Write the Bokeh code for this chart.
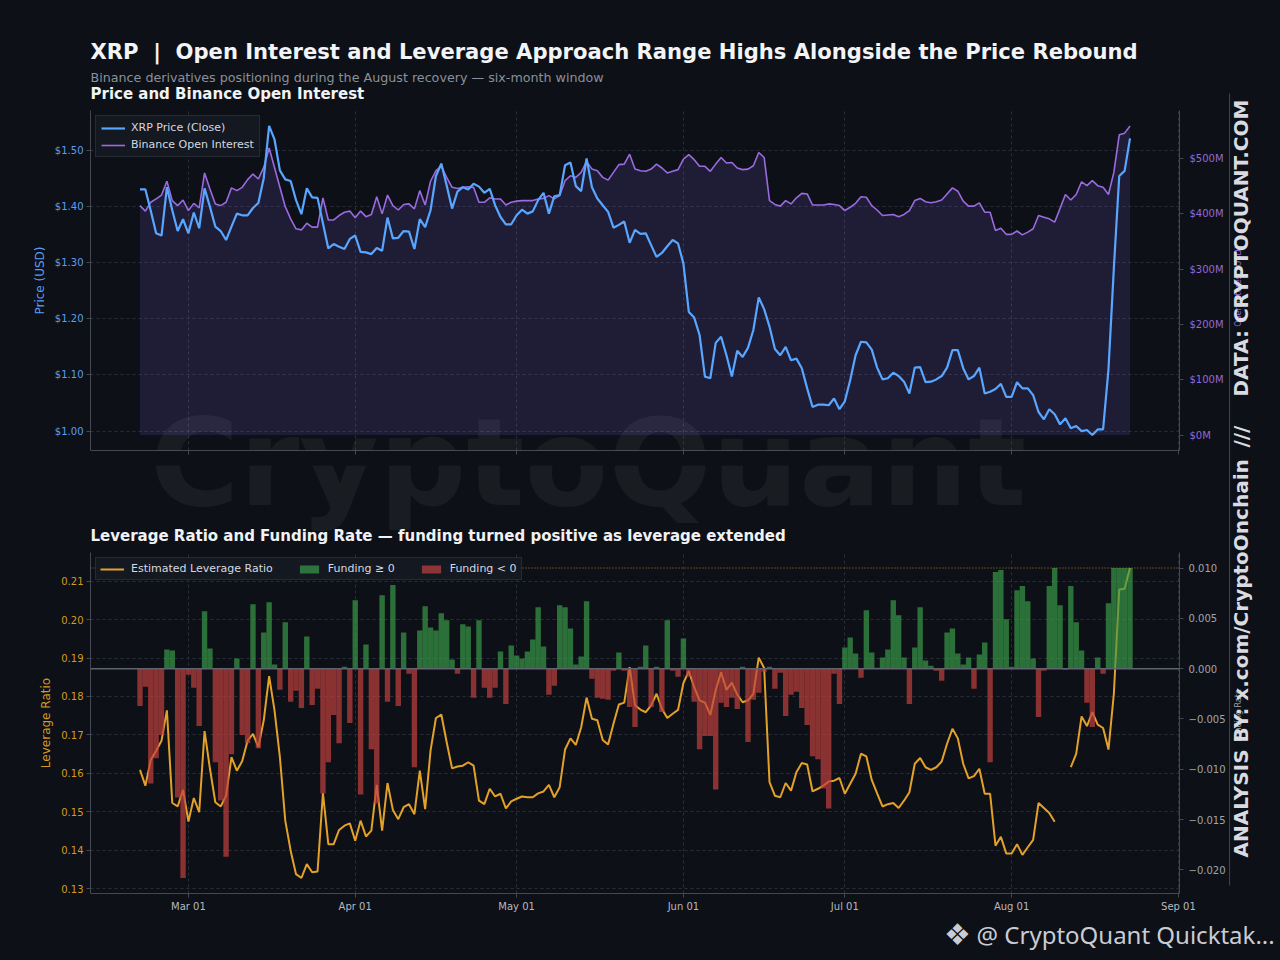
import numpy as np
import pandas as pd
from bokeh.plotting import figure
from bokeh.layouts import column, row
from bokeh.models import (Range1d, LinearAxis, FixedTicker, NumeralTickFormatter,
                          CustomJSTickFormatter, DatetimeTickFormatter, Label, Span,
                          Legend, LegendItem)
from bokeh.embed import file_html
from bokeh.resources import INLINE

# ---------------- data (daily, from 2025-02-20) ----------------
start_date = "2025-02-20"
month_ticks = ["2025-03-01", "2025-04-01", "2025-05-01", "2025-06-01",
               "2025-07-01", "2025-08-01", "2025-09-01"]

price = [
    1.430, 1.430, 1.392, 1.352, 1.348, 1.434, 1.393, 1.356, 1.377, 1.352,
    1.389, 1.361, 1.432, 1.399, 1.364, 1.356, 1.340, 1.364, 1.387, 1.384,
    1.384, 1.397, 1.406, 1.450, 1.543, 1.519, 1.464, 1.448, 1.445, 1.411,
    1.386, 1.432, 1.416, 1.415, 1.370, 1.325, 1.333, 1.328, 1.324, 1.342,
    1.348, 1.319, 1.318, 1.315, 1.326, 1.321, 1.380, 1.343, 1.344, 1.356,
    1.355, 1.324, 1.377, 1.363, 1.393, 1.454, 1.476, 1.437, 1.396, 1.426,
    1.434, 1.430, 1.440, 1.435, 1.424, 1.431, 1.402, 1.381, 1.368, 1.368,
    1.384, 1.394, 1.387, 1.391, 1.411, 1.424, 1.387, 1.418, 1.420, 1.473,
    1.478, 1.436, 1.427, 1.485, 1.434, 1.414, 1.402, 1.390, 1.362, 1.367,
    1.373, 1.335, 1.358, 1.351, 1.352, 1.331, 1.310, 1.317, 1.329, 1.340,
    1.334, 1.298, 1.212, 1.202, 1.171, 1.097, 1.094, 1.157, 1.168, 1.135,
    1.097, 1.143, 1.132, 1.148, 1.180, 1.238, 1.217, 1.186, 1.146, 1.135,
    1.150, 1.126, 1.129, 1.112, 1.076, 1.043, 1.047, 1.047, 1.046, 1.058,
    1.039, 1.053, 1.091, 1.135, 1.159, 1.158, 1.145, 1.113, 1.092, 1.094,
    1.104, 1.098, 1.088, 1.067, 1.113, 1.114, 1.087, 1.088, 1.092, 1.098,
    1.113, 1.144, 1.144, 1.112, 1.092, 1.098, 1.113, 1.067, 1.070, 1.075,
    1.084, 1.061, 1.061, 1.087, 1.076, 1.076, 1.064, 1.034, 1.021, 1.039,
    1.030, 1.012, 1.023, 1.005, 1.009, 1.000, 1.002, 0.993, 1.003, 1.003,
    1.110, 1.290, 1.454, 1.463, 1.521,
]

open_interest_musd = [
    415, 405, 421, 427, 434, 459, 424, 415, 425, 406,
    419, 411, 474, 445, 418, 415, 421, 447, 442, 448,
    462, 472, 463, 484, 519, 484, 448, 413, 391, 373,
    371, 383, 376, 376, 429, 389, 389, 397, 403, 405,
    393, 405, 395, 399, 431, 400, 434, 415, 407, 417,
    418, 409, 442, 416, 459, 478, 486, 466, 448, 446,
    448, 449, 448, 421, 421, 429, 427, 427, 416, 421,
    423, 424, 424, 424, 427, 428, 433, 427, 433, 460,
    469, 466, 475, 495, 481, 478, 466, 461, 475, 489,
    490, 508, 481, 478, 477, 481, 490, 483, 474, 477,
    480, 499, 507, 498, 486, 486, 477, 490, 502, 492,
    493, 483, 480, 481, 487, 511, 502, 424, 417, 414,
    424, 418, 429, 437, 436, 416, 416, 416, 418, 417,
    415, 406, 412, 419, 431, 430, 415, 407, 397, 398,
    399, 395, 399, 406, 424, 428, 422, 420, 422, 425,
    436, 447, 441, 423, 414, 414, 420, 403, 403, 370,
    374, 363, 363, 369, 362, 367, 373, 397, 394, 391,
    385, 410, 435, 425, 435, 458, 451, 460, 451, 448,
    435, 475, 543, 546, 559,
]

nan = float("nan")
leverage = [
    0.1609, 0.1568, 0.1635, 0.1659, 0.1685, 0.1764, 0.1523, 0.1514, 0.1557, 0.1475,
    0.1536, 0.1499, 0.1710, 0.1612, 0.1525, 0.1514, 0.1542, 0.1642, 0.1607, 0.1632,
    0.1685, 0.1703, 0.1668, 0.1738, 0.1853, 0.1764, 0.1642, 0.1477, 0.1399, 0.1338,
    0.1328, 0.1364, 0.1343, 0.1345, 0.1549, 0.1416, 0.1416, 0.1453, 0.1464, 0.1470,
    0.1425, 0.1477, 0.1436, 0.1451, 0.1570, 0.1451, 0.1575, 0.1505, 0.1481, 0.1512,
    0.1520, 0.1494, 0.1607, 0.1507, 0.1659, 0.1744, 0.1753, 0.1681, 0.1613, 0.1618,
    0.1620, 0.1629, 0.1620, 0.1529, 0.1520, 0.1560, 0.1540, 0.1547, 0.1509, 0.1527,
    0.1534, 0.1540, 0.1538, 0.1538, 0.1548, 0.1553, 0.1570, 0.1538, 0.1564, 0.1662,
    0.1691, 0.1674, 0.1720, 0.1797, 0.1742, 0.1738, 0.1687, 0.1675, 0.1729, 0.1779,
    0.1784, 0.1876, 0.1777, 0.1766, 0.1759, 0.1777, 0.1807, 0.1768, 0.1744, 0.1755,
    0.1765, 0.1835, 0.1866, 0.1824, 0.1790, 0.1784, 0.1752, 0.1817, 0.1863, 0.1817,
    0.1836, 0.1805, 0.1785, 0.1790, 0.1807, 0.1901, 0.1874, 0.1577, 0.1542, 0.1538,
    0.1575, 0.1555, 0.1603, 0.1627, 0.1623, 0.1553, 0.1560, 0.1568, 0.1579, 0.1581,
    0.1588, 0.1547, 0.1573, 0.1599, 0.1651, 0.1644, 0.1583, 0.1548, 0.1514, 0.1520,
    0.1523, 0.1510, 0.1529, 0.1551, 0.1625, 0.1640, 0.1616, 0.1609, 0.1616, 0.1631,
    0.1677, 0.1716, 0.1691, 0.1625, 0.1587, 0.1593, 0.1612, 0.1547, 0.1547, 0.1412,
    0.1435, 0.1392, 0.1392, 0.1416, 0.1388, 0.1408, 0.1427, 0.1523, 0.1510, 0.1497,
    0.1474, nan, nan, 0.1616, 0.1651, 0.1748, 0.1723, 0.1759, 0.1727, 0.1718,
    0.1662, 0.1807, 0.2078, 0.2080, 0.2134,
]

funding = [
    -0.0037, -0.0018, -0.0114, -0.0089, -0.0066, 0.0019, 0.0018, -0.0128, -0.0208, -0.0006,
    -0.0019, -0.0057, 0.0057, 0.0020, -0.0093, -0.0131, -0.0187, -0.0085, 0.0010, -0.0066,
    -0.0074, 0.0064, -0.0079, 0.0036, 0.0066, 0.0004, -0.0021, 0.0046, -0.0033, -0.0022,
    -0.0039, 0.0032, -0.0036, -0.0020, -0.0124, -0.0093, -0.0046, -0.0074, 0.0002, -0.0054,
    0.0068, -0.0125, 0.0024, -0.0080, -0.0134, 0.0073, -0.0033, 0.0083, -0.0037, 0.0036,
    -0.0005, -0.0098, 0.0038, 0.0062, 0.0041, 0.0038, 0.0055, 0.0048, 0.0009, -0.0005,
    0.0044, 0.0042, -0.0029, 0.0048, -0.0019, -0.0029, -0.0019, 0.0017, -0.0035, 0.0023,
    0.0013, 0.0010, 0.0017, 0.0029, 0.0061, 0.0022, -0.0026, -0.0017, 0.0063, 0.0061,
    0.0040, 0.0004, 0.0012, 0.0067, -0.0010, -0.0029, -0.0030, -0.0031, -0.0002, 0.0016,
    -0.0002, -0.0038, -0.0058, 0.0002, 0.0023, -0.0038, 0.0002, -0.0043, 0.0048, -0.0002,
    -0.0008, 0.0030, -0.0008, -0.0033, -0.0080, -0.0067, -0.0067, -0.0120, -0.0034, -0.0038,
    -0.0029, -0.0040, 0.0002, -0.0073, -0.0031, -0.0024, -0.0003, 0.0002, -0.0020, -0.0004,
    -0.0047, -0.0026, -0.0023, -0.0039, -0.0056, -0.0087, -0.0090, -0.0119, -0.0139, -0.0005,
    -0.0035, 0.0021, 0.0031, 0.0015, -0.0009, 0.0058, 0.0016, 0.0001, 0.0011, 0.0019,
    0.0068, 0.0053, 0.0011, -0.0035, 0.0021, 0.0061, 0.0008, 0.0003, -0.0002, -0.0012,
    0.0036, 0.0040, 0.0015, 0.0004, 0.0011, -0.0020, 0.0014, 0.0026, -0.0093, 0.0096,
    0.0098, 0.0049, 0.0002, 0.0078, 0.0082, 0.0067, 0.0010, -0.0048, -0.0002, 0.0082,
    0.0100, 0.0063, -0.0001, 0.0082, 0.0046, 0.0018, -0.0034, -0.0058, 0.0011, -0.0005,
    0.0065, 0.0100, 0.0100, 0.0100, 0.0100,
]

price_ticks = [1.0, 1.1, 1.2, 1.3, 1.4, 1.5]
oi_ticks = [0, 100, 200, 300, 400, 500]
lev_ticks = [0.13, 0.14, 0.15, 0.16, 0.17, 0.18, 0.19, 0.20, 0.21]
fund_ticks = [-0.020, -0.015, -0.010, -0.005, 0.0, 0.005, 0.010]

# ---------------- styling / geometry ----------------
BG = "#0d1016"
GRID = "#2a2e3b"
SPINE = "#444853"
FONT = "DejaVu Sans"
C_PRICE = "#58a6ff"
C_OI = "#9a6ae0"
C_LEV = "#e3a12a"
C_POS = "#3a9a48"
C_NEG = "#c0403f"
C_BRAND = "#d9dbe0"

PAGE_W = 1280
LEFT_W = 1228
STRIP_W = PAGE_W - LEFT_W
BL, BR = 90, 48
FRAME_L, FRAME_R = BL, LEFT_W - BR
HDR_H = 104
P1_H, P1_BT, P1_BB = 361, 6, 15      # frame: page y 110 .. 450
MID_H = 81
P2_H, P2_BT, P2_BB = 369, 6, 22      # frame: page y 552 .. 893
FOOT_H = 45
TOP_P1 = HDR_H
TOP_MID = TOP_P1 + P1_H
TOP_P2 = TOP_MID + MID_H
LEFT_H = TOP_P2 + P2_H               # 915
BASE_FIX = 0.37                      # alphabetic baseline correction (em)

DAY_MS = 86400000.0
dates = pd.date_range(start_date, periods=len(price), freq="D")
xs = dates.values.astype("datetime64[ms]").astype("int64").astype(float)
month_ms = [pd.Timestamp(m).value / 1e6 for m in month_ticks]


def padded(vals, frac=0.05, include=None):
    a = np.asarray(vals, dtype=float)
    lo, hi = np.nanmin(a), np.nanmax(a)
    if include is not None:
        lo, hi = min(lo, include), max(hi, include)
    s = hi - lo
    return lo - frac * s, hi + frac * s


xlo, xhi = padded(xs)
x_range = Range1d(xlo, xhi)


def canvas_fig(w, h, left=0, right=0):
    """Text canvas: data units are page pixels (x) and pixels from the figure top (y)."""
    f = figure(width=w, height=h, x_range=Range1d(left, w - right), y_range=Range1d(h, 0),
               output_backend="svg", toolbar_location=None, title=None,
               x_axis_location=None, y_axis_location=None,
               min_border=0, min_border_left=left, min_border_right=right,
               min_border_top=0, min_border_bottom=0,
               background_fill_color=BG, border_fill_color=BG, outline_line_color=None)
    f.grid.visible = False
    return f


def text(fig, x, y, s, size, **kw):
    """y is the intended alphabetic baseline (or centre for other baselines)."""
    px = float(size.replace("px", ""))
    if kw.get("text_baseline", "alphabetic") == "alphabetic":
        kw["text_baseline"] = "alphabetic"
        y = y - BASE_FIX * px
    lab = Label(x=x, y=y, text=s, text_font_size=size, **kw)
    fig.add_layout(lab)
    return lab


def style_axis(ax, color, size="10px", standoff=3):
    ax.axis_line_color = SPINE
    ax.axis_line_width = 1
    ax.major_tick_line_color = SPINE
    ax.major_tick_out = 4
    ax.major_tick_in = 0
    ax.minor_tick_line_color = None
    ax.minor_tick_out = 0
    ax.major_label_text_color = color
    ax.major_label_text_font = FONT
    ax.major_label_text_font_size = size
    ax.major_label_standoff = standoff
    ax.axis_label_text_color = color
    ax.axis_label_text_font = FONT
    ax.axis_label_text_font_size = "12px"
    ax.axis_label_text_font_style = "normal"
    ax.axis_label_standoff = 5


date_fmt = DatetimeTickFormatter(
    microseconds="%b %d", milliseconds="%b %d", seconds="%b %d", minsec="%b %d",
    minutes="%b %d", hourmin="%b %d", hours="%b %d", days="%b %d",
    months="%b %d", years="%b %d")

WM = dict(text_font=FONT, text_font_style="bold", text_color="#ffffff", text_alpha=0.05,
          text_align="center", text_baseline="alphabetic")
WM_SIZE = "122px"
WM_X, WM_Y = 588, 508   # page position of the watermark (centre, baseline)

# ================= header =================
hdr = canvas_fig(LEFT_W, HDR_H, FRAME_L, BR)
text(hdr, 90, 59, "XRP \u00a0|\u00a0 Open Interest and Leverage Approach Range Highs Alongside the Price Rebound",
     "21.1px", text_font=FONT, text_font_style="bold", text_color="#f2f4f8", text_align="left")
text(hdr, 90, 81.5, "Binance derivatives positioning during the August recovery \u2014 six-month window",
     "12.7px", text_font=FONT, text_color="#8b909a", text_align="left")
text(hdr, 90, 99, "Price and Binance Open Interest",
     "15px", text_font=FONT, text_font_style="bold", text_color="#f0f2f5", text_align="left")

# ================= top panel =================
ylo1, yhi1 = padded(price)
p1 = figure(width=LEFT_W, height=P1_H, x_range=x_range, y_range=Range1d(ylo1, yhi1),
            x_axis_type="datetime", output_backend="svg", toolbar_location=None,
            min_border_left=BL, min_border_right=BR, min_border_top=P1_BT,
            min_border_bottom=P1_BB, background_fill_color=BG, border_fill_color=BG,
            outline_line_color=None)
p1.extra_y_ranges = {"oi": Range1d(*padded(open_interest_musd, include=0))}

# watermark top part (frame spans page y 110..450) - position converted to data units
f1_top, f1_bot = TOP_P1 + P1_BT, TOP_P1 + P1_H - P1_BB
wm_base = WM_Y - BASE_FIX * 122
wm_x_data = xlo + (WM_X - FRAME_L) / (FRAME_R - FRAME_L) * (xhi - xlo)
wm_y_data = ylo1 + (f1_bot - wm_base) / (f1_bot - f1_top) * (yhi1 - ylo1)
p1.add_layout(Label(x=wm_x_data, y=wm_y_data, text="CryptoQuant", text_font_size=WM_SIZE, **WM))

r_fill = p1.varea(x=xs, y1=0, y2=open_interest_musd, y_range_name="oi",
                  fill_color="#7b5cd6", fill_alpha=0.17)
r_oi = p1.line(xs, open_interest_musd, y_range_name="oi", line_color=C_OI, line_width=1.6)
r_price = p1.line(xs, price, line_color=C_PRICE, line_width=2.2)

ax_l1 = p1.left[0]
ax_l1.ticker = FixedTicker(ticks=price_ticks)
ax_l1.formatter = NumeralTickFormatter(format="$0.00")
ax_l1.axis_label = "Price (USD)"
style_axis(ax_l1, "#5b9cf5")

ax_r1 = LinearAxis(y_range_name="oi", ticker=FixedTicker(ticks=oi_ticks),
                   formatter=CustomJSTickFormatter(code="return '$' + tick.toFixed(0) + 'M';"))
style_axis(ax_r1, "#9468d8", standoff=6)
p1.add_layout(ax_r1, "right")

ax_b1 = p1.below[0]
ax_b1.ticker = FixedTicker(ticks=month_ms)
ax_b1.formatter = date_fmt
style_axis(ax_b1, "#b5b9c1")
ax_b1.major_label_text_color = None
ax_b1.major_label_text_font_size = "0px"
ax_b1.major_label_standoff = 0

for g in (p1.xgrid, p1.ygrid):
    g.grid_line_color = GRID
    g.grid_line_dash = "3 3"

leg1 = Legend(items=[LegendItem(label="XRP Price (Close)", renderers=[r_price]),
                     LegendItem(label="Binance Open Interest", renderers=[r_oi])],
              location="top_left", margin=5, padding=5, spacing=4,
              label_text_font=FONT, label_text_font_size="11px",
              label_text_color="#d6d9e0", label_height=12, label_standoff=6,
              glyph_width=24, glyph_height=12,
              background_fill_color="#151922", background_fill_alpha=0.95,
              border_line_color="#373b46", border_line_width=1)
p1.add_layout(leg1)

# ================= gap between panels =================
mid = canvas_fig(LEFT_W, MID_H, FRAME_L, BR)
text(mid, WM_X, WM_Y - TOP_MID, "CryptoQuant", WM_SIZE, **WM)
text(mid, 90, 541 - TOP_MID,
     "Leverage Ratio and Funding Rate \u2014 funding turned positive as leverage extended",
     "15px", text_font=FONT, text_font_style="bold", text_color="#f0f2f5", text_align="left")

# ================= bottom panel =================
ylo2, yhi2 = padded(leverage)
p2 = figure(width=LEFT_W, height=P2_H, x_range=x_range, y_range=Range1d(ylo2, yhi2),
            x_axis_type="datetime", output_backend="svg", toolbar_location=None,
            min_border_left=BL, min_border_right=BR, min_border_top=P2_BT,
            min_border_bottom=P2_BB, background_fill_color=BG, border_fill_color=BG,
            outline_line_color=None)
p2.extra_y_ranges = {"funding": Range1d(*padded(funding))}

lev_arr = np.array(leverage, dtype=float)
fund_arr = np.array(funding, dtype=float)
pos = fund_arr >= 0
neg = ~pos
lev_max = float(np.nanmax(lev_arr))

# faint range-high note (sits behind the legend, as in the original)
p2.add_layout(Label(x=xs[1], y=lev_max, text="Lev high: %.3f" % lev_max, text_font=FONT,
                    text_font_size="10px", text_color="#8b909a", text_alpha=0.35,
                    text_align="left", text_baseline="middle"))

r_lev = p2.line(xs, lev_arr, line_color=C_LEV, line_width=2)
r_pos = p2.vbar(x=xs[pos], top=fund_arr[pos], bottom=0, width=DAY_MS, y_range_name="funding",
                fill_color=C_POS, fill_alpha=0.7, line_color=None)
r_neg = p2.vbar(x=xs[neg], top=fund_arr[neg], bottom=0, width=DAY_MS, y_range_name="funding",
                fill_color=C_NEG, fill_alpha=0.7, line_color=None)

p2.add_layout(Span(location=0, dimension="width", y_range_name="funding",
                   line_color="#5f636d", line_width=1.5))
p2.add_layout(Span(location=lev_max, dimension="width",
                   line_color="#c8921e", line_dash="1 2", line_width=1, line_alpha=0.85))

ax_l2 = p2.left[0]
ax_l2.ticker = FixedTicker(ticks=lev_ticks)
ax_l2.formatter = NumeralTickFormatter(format="0.00")
ax_l2.axis_label = "Leverage Ratio"
style_axis(ax_l2, "#d49a1f")

ax_r2 = LinearAxis(y_range_name="funding", ticker=FixedTicker(ticks=fund_ticks),
                   formatter=CustomJSTickFormatter(
                       code="return (tick < -1e-9 ? '\u2212' : '') + Math.abs(tick).toFixed(3);"))
style_axis(ax_r2, "#a0a4ac", standoff=5)
p2.add_layout(ax_r2, "right")

ax_b2 = p2.below[0]
ax_b2.ticker = FixedTicker(ticks=month_ms)
ax_b2.formatter = date_fmt
style_axis(ax_b2, "#b5b9c1")

for g in (p2.xgrid, p2.ygrid):
    g.grid_line_color = GRID
    g.grid_line_dash = "3 3"

leg2 = Legend(items=[LegendItem(label="Estimated Leverage Ratio", renderers=[r_lev]),
                     LegendItem(label="Funding \u2265 0", renderers=[r_pos]),
                     LegendItem(label="Funding < 0", renderers=[r_neg])],
              location="top_left", orientation="horizontal", margin=5, padding=4,
              spacing=24, label_text_font=FONT, label_text_font_size="11px",
              label_text_color="#d6d9e0", label_height=12, label_standoff=7,
              glyph_width=24, glyph_height=10,
              background_fill_color="#151922", background_fill_alpha=0.95,
              border_line_color="#373b46", border_line_width=1)
p2.add_layout(leg2)

# ================= right branding strip =================
strip = canvas_fig(STRIP_W, LEFT_H)
SX = 1240 - LEFT_W
strip.segment(x0=[1.0], y0=[93], x1=[1.0], y1=[885], line_color="#3c404a", line_width=1.2)
text(strip, SX - 2, 286, "Open Interest (USD)", "8px", text_font=FONT,
     text_color="#9468d8", text_align="center", text_baseline="middle", angle=np.pi / 2)
text(strip, SX - 2, 715, "Funding Rate", "8px", text_font=FONT,
     text_color="#a0a4ac", text_align="center", text_baseline="middle", angle=np.pi / 2)
BRAND = dict(text_font=FONT, text_font_style="bold", text_color=C_BRAND,
             text_align="left", text_baseline="middle", angle=np.pi / 2)
text(strip, SX, 857, "ANALYSIS BY: x.com/CryptoOnchain", "20px", **BRAND)
text(strip, SX, 447, "///", "20px", **BRAND)
text(strip, SX, 396, "DATA: CRYPTOQUANT.COM", "20px", **BRAND)

# ================= footer =================
foot = canvas_fig(PAGE_W, FOOT_H)
text(foot, 957, 934 - LEFT_H, "\u2756", "30px", text_font=FONT,
     text_color="#c9ccd2", text_align="center", text_baseline="middle")
text(foot, 976, 943 - LEFT_H, "@ CryptoQuant Quicktak...", "24px", text_font="Noto Sans",
     text_color="#c9ccd2", text_align="left")

layout = column(row(column(hdr, p1, mid, p2, spacing=0), strip, spacing=0), foot, spacing=0)
layout.styles = {"background-color": BG}

html = file_html(layout, INLINE, title="XRP Open Interest and Leverage")
html = html.replace("<head>", "<head><style>html,body{background:%s;margin:0;}</style>" % BG, 1)
open("out.html", "w").write(html)
